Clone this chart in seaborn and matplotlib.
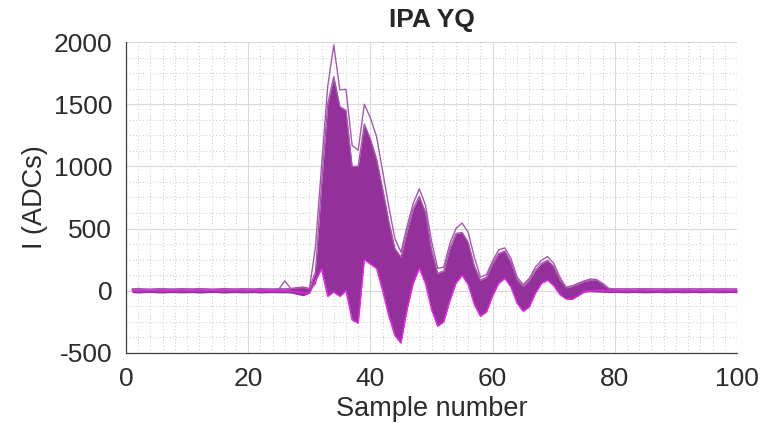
"""IPA YQ waveform overlay: I channel ADC counts per sample."""

import matplotlib.pyplot as plt
import numpy as np
import pandas as pd
import seaborn as sns
from matplotlib.ticker import MultipleLocator

SAMPLES = list(range(1, 101))

# values (ADC counts, samples 1..100)
TOP_TRACE = [
    10, 12, 10, 8, 10, 12, 10, 10, 12, 10,
    10, 12, 10, 8, 10, 12, 10, 10, 12, 10,
    10, 12, 10, 10, 12, 80, 15, 20, 25, 10,
    350, 1000, 1640, 1976, 1615, 1620, 1170, 1130, 1500, 1390,
    1240, 960, 680, 420, 310, 520, 700, 820, 690, 400,
    180, 190, 380, 500, 545, 470, 270, 110, 130, 240,
    330, 345, 260, 110, 50, 100, 190, 245, 275, 220,
    110, 30, 40, 60, 80, 95, 90, 60, 20, 15,
    15, 12, 15, 15, 12, 15, 15, 12, 15, 15,
    12, 15, 15, 12, 15, 15, 12, 15, 15, 12,
]
HI_TRACE = [
    15, 18, 15, 14, 16, 18, 15, 15, 17, 16,
    15, 18, 16, 14, 15, 18, 16, 15, 17, 16,
    15, 18, 16, 15, 17, 16, 18, 25, 30, 20,
    150, 850, 1500, 1720, 1480, 1450, 1000, 1000, 1340, 1220,
    1060, 820, 560, 340, 270, 480, 660, 760, 630, 330,
    140, 160, 340, 460, 470, 390, 200, 85, 110, 220,
    300, 320, 230, 90, 35, 85, 165, 220, 245, 195,
    90, 25, 35, 55, 75, 85, 85, 55, 15, 14,
    15, 16, 14, 15, 17, 15, 14, 16, 15, 14,
    16, 15, 14, 16, 15, 14, 16, 15, 14, 16,
]
MID_TRACE = [
    0, 2, 0, -2, 0, 2, 0, 0, 2, 0,
    0, 2, 0, -2, 0, 2, 0, 0, 2, 0,
    0, 2, 0, 0, 2, 0, 2, 10, 12, 0,
    60, 500, 900, 1150, 950, 900, 500, 420, 800, 720,
    620, 420, 180, -20, -80, 150, 380, 480, 360, 80,
    -80, -60, 110, 260, 300, 220, 40, -70, -40, 80,
    180, 210, 130, -10, -70, -30, 70, 140, 165, 115,
    25, -20, -20, 10, 40, 50, 45, 25, 5, 2,
    0, 2, 0, 2, 0, 2, 0, 2, 0, 2,
    0, 2, 0, 2, 0, 2, 0, 2, 0, 2,
]
LO_TRACE = [
    -15, -18, -15, -14, -16, -18, -15, -15, -17, -16,
    -15, -18, -16, -14, -15, -18, -16, -15, -17, -16,
    -15, -18, -16, -15, -17, -16, -18, -30, -40, -20,
    80, 175, -45, -10, -45, 0, -235, -260, 250, 215,
    180, 0, -200, -360, -420, -150, 60, 180, 60, -150,
    -285, -250, -80, 60, 125, 50, -110, -205, -170, -40,
    60, 100, 30, -100, -165, -130, -20, 60, 85, 40,
    -30, -65, -70, -40, -12, -8, -10, -12, -15, -14,
    -15, -16, -14, -15, -17, -15, -14, -16, -15, -14,
    -16, -15, -14, -16, -15, -14, -16, -15, -14, -16,
]
MAGENTA_TRACE = [
    0, -2, 0, 2, 0, -2, 0, 0, -2, 0,
    0, -2, 0, 2, 0, -2, 0, 0, -2, 0,
    0, -2, 0, 0, -2, 0, -5, -10, -15, -20,
    80, 175, -45, -10, -45, 0, -235, -260, 250, 215,
    180, 0, -200, -360, -420, -150, 60, 180, 60, -150,
    -285, -250, -80, 60, 125, 50, -110, -205, -170, -40,
    60, 100, 30, -100, -165, -130, -20, 60, 85, 40,
    -30, -65, -70, -40, -8, 0, 5, 2, 0, -3,
    0, 2, 0, -2, 0, 3, 0, -2, 0, 2,
    0, -2, 0, 2, 0, -3, 0, 2, 0, -2,
]

PURPLE = "#93309a"
OUTLINE = "#a45aab"
MAGENTA = "#ee22ee"
TEXT = "#2b2b2b"

sns.set_theme(style="white")
plt.rcParams["font.family"] = ["Liberation Sans", "DejaVu Sans"]
plt.rcParams["axes.unicode_minus"] = False

fig = plt.figure(figsize=(7.75, 4.23), dpi=100)
ax = fig.add_axes([0.1626, 0.1655, 0.7884, 0.7352])

# dense band of traces
ax.fill_between(SAMPLES, LO_TRACE, HI_TRACE, color=PURPLE, lw=0, zorder=2)

traces = pd.DataFrame(
    {
        "sample": SAMPLES * 3,
        "adc": TOP_TRACE + HI_TRACE + MID_TRACE,
        "trace": ["top"] * 100 + ["hi"] * 100 + ["mid"] * 100,
    }
)
sns.lineplot(
    data=traces,
    x="sample",
    y="adc",
    hue="trace",
    palette={"top": OUTLINE, "hi": OUTLINE, "mid": PURPLE},
    units="trace",
    estimator=None,
    lw=1.0,
    legend=False,
    zorder=3,
    ax=ax,
)
sns.lineplot(x=SAMPLES, y=MAGENTA_TRACE, color=MAGENTA, lw=1.0, zorder=4, ax=ax)

ax.set_xlim(0, 100)
ax.set_ylim(-500, 2000)
ax.xaxis.set_major_locator(MultipleLocator(20))
ax.xaxis.set_minor_locator(MultipleLocator(2))
ax.yaxis.set_major_locator(MultipleLocator(500))
ax.yaxis.set_minor_locator(MultipleLocator(125))
ax.grid(which="major", color="#d9d9d9", lw=0.8, zorder=0)
ax.grid(which="minor", color="#b5b5b5", lw=0.6, ls=(0, (1, 3)), zorder=0)
ax.set_axisbelow(True)

for side in ("top", "right"):
    ax.spines[side].set_visible(False)
for side in ("left", "bottom"):
    ax.spines[side].set_color("#404040")
    ax.spines[side].set_linewidth(0.9)

ax.tick_params(which="major", direction="in", length=4, width=0.8,
               color="#404040", labelsize=19, labelcolor=TEXT, pad=10)
ax.tick_params(which="minor", length=0)

ax.set_xlabel("Sample number", fontsize=19.5, color=TEXT, labelpad=4)
ax.set_ylabel("I (ADCs)", fontsize=19.5, color=TEXT, labelpad=4)
ax.set_title("IPA YQ", fontsize=19, fontweight="bold", pad=11)

fig.savefig("out.png", dpi=100)
